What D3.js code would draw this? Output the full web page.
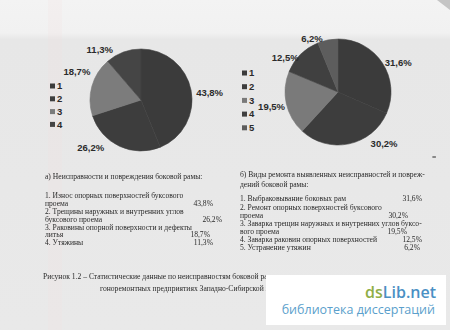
<!DOCTYPE html>
<html>
<head>
<meta charset="utf-8">
<script src="https://cdn.jsdelivr.net/npm/d3@7/dist/d3.min.js"></script>
<style>
  html, body { margin: 0; padding: 0; background: #e8e8e8; }
  svg { display: block; }
</style>
</head>
<body>
<svg id="page" width="450" height="330"></svg>
<script>
// ---- data ----
const categoriesA = ["1", "2", "3", "4"];
const valuesA = [43.8, 26.2, 18.7, 11.3];
const namesA = [
  ["1. Износ опорных поверхностей буксового", "проема"],
  ["2. Трещины наружных и внутренних углов", "буксового проема"],
  ["3. Раковины опорной поверхности и дефекты", "литья"],
  ["4. Утяжины"]
];
const titleA = ["а) Неисправности и повреждения боковой рамы:"];

const categoriesB = ["1", "2", "3", "4", "5"];
const valuesB = [31.6, 30.2, 19.5, 12.5, 6.2];
const namesB = [
  ["1. Выбраковывание боковых рам"],
  ["2. Ремонт опорных поверхностей буксового", "проема"],
  ["3. Заварка трещин наружных и внутренних углов буксо-", "вого проема"],
  ["4. Заварка раковин опорных поверхностей"],
  ["5. Устранение утяжин"]
];
const titleB = ["б) Виды ремонта выявленных неисправностей и повреж-", "дений боковой рамы:"];

const captionLines = [
  "Рисунок 1.2 – Статистические данные по неисправностям боковой рамы в ва-",
  "гоноремонтных предприятиях Западно-Сибирской железной дороги"
];

// ---- styles / layout ----
const shadesA = ["#3b3b3b", "#3e3e3e", "#7b7b7b", "#444444"];
const shadesB = ["#3b3b3b", "#3d3d3d", "#7a7a7a", "#404040", "#5d5d5d"];
// label placement: [angle shift in degrees, distance from centre]
const labelPlaceA = [[5, 69], [22, 69], [8, 70], [-19, 65]];
const labelPlaceB = [[7, 67], [-30, 69], [0, 68], [-12, 63], [-15, 59]];

const ru = d3.formatLocale({decimal: ",", thousands: " ", grouping: [3], currency: ["", ""]});
const pct = v => ru.format(".1f")(v) + "%";

const svg = d3.select("#page");

// paper background
const defs = svg.append("defs");
const bg = defs.append("linearGradient").attr("id", "paper").attr("x1", 0).attr("y1", 0).attr("x2", 0).attr("y2", 1);
bg.append("stop").attr("offset", "0").attr("stop-color", "#f3f3f3");
bg.append("stop").attr("offset", "0.10").attr("stop-color", "#f1f1f1");
bg.append("stop").attr("offset", "0.12").attr("stop-color", "#e7e7e7");
bg.append("stop").attr("offset", "1").attr("stop-color", "#e9e9e9");
svg.append("rect").attr("width", 450).attr("height", 330).attr("fill", "url(#paper)");
svg.append("rect").attr("x", 48).attr("y", 0).attr("width", 14).attr("height", 330)
  .attr("fill", "#f3dede").attr("opacity", 0.18);
svg.append("path").attr("d", "M437,0 L450,0 L450,10 Z").attr("fill", "#c4c4c4");

const soft = defs.append("filter").attr("id", "soft");
soft.append("feGaussianBlur").attr("stdDeviation", 0.35);

function drawPie(cfg) {
  const g = svg.append("g").attr("transform", `translate(${cfg.cx},${cfg.cy})`);
  const arcs = d3.pie().sort(null).value(d => d)(cfg.values);
  const arc = d3.arc().innerRadius(0).outerRadius(cfg.r);
  g.append("g").attr("filter", "url(#soft)")
    .selectAll("path.slice").data(arcs).join("path")
    .attr("class", "slice")
    .attr("d", arc)
    .attr("fill", (d, i) => cfg.shades[i])
    .attr("stroke", (d, i) => cfg.shades[i])
    .attr("stroke-width", 0.6);

  g.selectAll("text.pct").data(arcs).join("text")
    .attr("class", "pct")
    .attr("transform", (d, i) => {
      const a = (d.startAngle + d.endAngle) / 2 + cfg.place[i][0] * Math.PI / 180;
      const rr = cfg.place[i][1];
      return `translate(${rr * Math.sin(a)},${-rr * Math.cos(a)})`;
    })
    .attr("text-anchor", "middle")
    .attr("dy", "0.35em")
    .attr("font-family", "Liberation Sans, Arial, sans-serif")
    .attr("font-weight", "bold")
    .attr("font-size", 9.5)
    .attr("fill", "#2b2b2b")
    .text(d => pct(d.data));

  const leg = svg.append("g").attr("transform", `translate(${cfg.lx},${cfg.ly})`);
  const items = leg.selectAll("g").data(cfg.categories).join("g")
    .attr("transform", (d, i) => `translate(0,${i * cfg.step})`);
  items.append("rect").attr("x", 0).attr("y", -2.5).attr("width", 5).attr("height", 5)
    .attr("fill", (d, i) => cfg.shades[i]);
  items.append("text").attr("x", 7).attr("dy", "0.35em")
    .attr("font-family", "Liberation Sans, Arial, sans-serif")
    .attr("font-weight", "bold").attr("font-size", 9.5).attr("fill", "#2b2b2b")
    .text(d => d);
}

drawPie({cx: 141, cy: 100, r: 51, values: valuesA, shades: shadesA, place: labelPlaceA,
  categories: categoriesA, lx: 50, ly: 86, step: 12.8});
drawPie({cx: 338, cy: 92, r: 53, values: valuesB, shades: shadesB, place: labelPlaceB,
  categories: categoriesB, lx: 242, ly: 73, step: 13.7});

// ---- text blocks ----
const serif = "Liberation Serif, Times New Roman, serif";
function textLine(x, y, s, anchor) {
  return svg.append("text").attr("x", x).attr("y", y)
    .attr("font-family", serif).attr("font-size", 7.6).attr("fill", "#2a2a2a")
    .attr("text-anchor", anchor || "start").attr("dy", "0.32em")
    .attr("filter", "url(#soft)").text(s);
}

// left column
textLine(45, 176.7, titleA[0]);
const rowsA = [[196, 203.6], [211.6, 219.2], [227.2, 234.8], [242.4]];
const valEndA = [213, 222, 210, 213];
namesA.forEach((lines, i) => {
  lines.forEach((s, j) => textLine(45, rowsA[i][j], s));
  textLine(valEndA[i], rowsA[i][lines.length - 1], pct(valuesA[i]), "end");
});

// right column
textLine(240, 174.3, titleB[0]);
textLine(240, 184.3, titleB[1]);
const rowsB = [[198.3], [208, 216], [224, 231.7], [239.4], [247.1]];
const valEndB = [422, 408, 407, 422, 420];
namesB.forEach((lines, i) => {
  lines.forEach((s, j) => textLine(240, rowsB[i][j], s));
  textLine(valEndB[i], rowsB[i][lines.length - 1], pct(valuesB[i]), "end");
});

// page mark on the right margin
textLine(432, 158, "=");

// caption
textLine(43, 277, captionLines[0]);
textLine(100, 289, captionLines[1]);

// ---- library stamp ----
svg.append("rect").attr("x", 266).attr("y", 275).attr("width", 180).attr("height", 50).attr("fill", "#ffffff");
const mark = svg.append("text").attr("x", 436).attr("y", 298).attr("text-anchor", "end")
  .attr("font-family", "Open Sans, sans-serif").attr("font-weight", 600).attr("font-size", 16);
mark.append("tspan").attr("fill", "#8fae46").text("ds");
mark.append("tspan").attr("fill", "#4a90c4").text("Lib.net");
svg.append("text").attr("x", 435).attr("y", 314).attr("text-anchor", "end")
  .attr("font-family", "Open Sans, sans-serif").attr("font-size", 12.5).attr("fill", "#5b9fcc")
  .text("библиотека диссертаций");
</script>
</body>
</html>
